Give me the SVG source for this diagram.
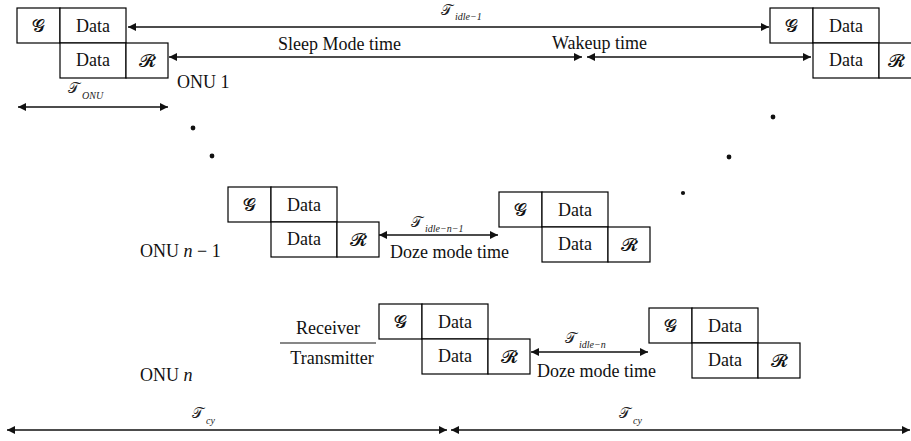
<svg xmlns="http://www.w3.org/2000/svg" width="911" height="441" viewBox="0 0 911 441">
  <style>
    .cell { fill: #fff; stroke: #000; stroke-width: 1.2; }
    .txt { font-family: "Liberation Serif", "Tinos", "DejaVu Serif", serif; font-size: 18px; fill: #111; }
    .mid { text-anchor: middle; }
    .scr { font-family: "DejaVu Serif", "DejaVu Sans", "Noto Sans", serif; font-size: 18px; fill: #111; text-anchor: middle; }
    .bigT { font-family: "DejaVu Serif", "DejaVu Sans", serif; font-size: 15px; fill: #222; }
    .sub { font-family: "Liberation Serif", "Tinos", "DejaVu Serif", serif; font-style: italic; font-size: 10px; fill: #222; }
    .arr { stroke: #111; stroke-width: 1.5; fill: none; marker-start: url(#head); marker-end: url(#head); }
    .sep { stroke: #111; stroke-width: 1.2; }
    .dot { fill: #111; }
  </style>
  <defs>
    <marker id="head" viewBox="0 0 10 10" refX="10" refY="5" markerWidth="9" markerHeight="8" markerUnits="userSpaceOnUse" orient="auto-start-reverse">
      <path d="M0,0 L10,5 L0,10 Z" fill="#111"/>
    </marker>
  </defs>

  <!-- ONU 1 burst -->
  <g id="onu1-burst" transform="translate(17,8)">
    <rect class="cell" x="0" y="0" width="43" height="35"/>
    <rect class="cell" x="43" y="0" width="66" height="35"/>
    <rect class="cell" x="43" y="35" width="66" height="35"/>
    <rect class="cell" x="109" y="35" width="42" height="35"/>
    <text class="scr" x="21.5" y="24">𝓖</text>
    <text class="txt mid" x="76" y="23.5">Data</text>
    <text class="txt mid" x="76" y="57.5">Data</text>
    <text class="scr" x="130" y="59">𝓡</text>
  </g>

  <!-- ONU 1 next burst -->
  <g id="onu1-next" transform="translate(770,8)">
    <rect class="cell" x="0" y="0" width="43" height="35"/>
    <rect class="cell" x="43" y="0" width="66" height="35"/>
    <rect class="cell" x="43" y="35" width="66" height="35"/>
    <rect class="cell" x="109" y="35" width="42" height="35"/>
    <text class="scr" x="21.5" y="24">𝓖</text>
    <text class="txt mid" x="76" y="23.5">Data</text>
    <text class="txt mid" x="76" y="57.5">Data</text>
    <text class="scr" x="126" y="59">𝓡</text>
  </g>

  <!-- ONU n-1 burst -->
  <g id="onun1-burst" transform="translate(228,187)">
    <rect class="cell" x="0" y="0" width="43" height="35"/>
    <rect class="cell" x="43" y="0" width="66" height="35"/>
    <rect class="cell" x="43" y="35" width="66" height="35"/>
    <rect class="cell" x="109" y="35" width="42" height="35"/>
    <text class="scr" x="21.5" y="24">𝓖</text>
    <text class="txt mid" x="76" y="23.5">Data</text>
    <text class="txt mid" x="76" y="57.5">Data</text>
    <text class="scr" x="130" y="59">𝓡</text>
  </g>

  <!-- ONU n-1 next burst -->
  <g id="onun1-next" transform="translate(499,192)">
    <rect class="cell" x="0" y="0" width="43" height="35"/>
    <rect class="cell" x="43" y="0" width="66" height="35"/>
    <rect class="cell" x="43" y="35" width="66" height="35"/>
    <rect class="cell" x="109" y="35" width="42" height="35"/>
    <text class="scr" x="21.5" y="24">𝓖</text>
    <text class="txt mid" x="76" y="23.5">Data</text>
    <text class="txt mid" x="76" y="57.5">Data</text>
    <text class="scr" x="130" y="59">𝓡</text>
  </g>

  <!-- ONU n burst -->
  <g id="onun-burst" transform="translate(379,304)">
    <rect class="cell" x="0" y="0" width="43" height="35"/>
    <rect class="cell" x="43" y="0" width="66" height="35"/>
    <rect class="cell" x="43" y="35" width="66" height="35"/>
    <rect class="cell" x="109" y="35" width="42" height="35"/>
    <text class="scr" x="21.5" y="24">𝓖</text>
    <text class="txt mid" x="76" y="23.5">Data</text>
    <text class="txt mid" x="76" y="57.5">Data</text>
    <text class="scr" x="130" y="59">𝓡</text>
  </g>

  <!-- ONU n next burst -->
  <g id="onun-next" transform="translate(649,308)">
    <rect class="cell" x="0" y="0" width="43" height="35"/>
    <rect class="cell" x="43" y="0" width="66" height="35"/>
    <rect class="cell" x="43" y="35" width="66" height="35"/>
    <rect class="cell" x="109" y="35" width="42" height="35"/>
    <text class="scr" x="21.5" y="24">𝓖</text>
    <text class="txt mid" x="76" y="23.5">Data</text>
    <text class="txt mid" x="76" y="57.5">Data</text>
    <text class="scr" x="130" y="59">𝓡</text>
  </g>

  <!-- ONU labels and interval captions -->
  <g id="labels">
    <text class="txt" x="177" y="88">ONU 1</text>
    <text class="txt" x="140" y="257">ONU <tspan font-style="italic">n</tspan> − 1</text>
    <text class="txt" x="140" y="381">ONU <tspan font-style="italic">n</tspan></text>
    <text class="txt mid" x="328" y="334">Receiver</text>
    <line class="sep" x1="280" y1="343" x2="376" y2="343"/>
    <text class="txt mid" x="332" y="364">Transmitter</text>
    <text class="txt" x="278" y="50">Sleep Mode time</text>
    <text class="txt" x="552" y="49">Wakeup time</text>
    <text class="txt" x="390" y="258">Doze mode time</text>
    <text class="txt" x="537" y="377">Doze mode time</text>
  </g>

  <!-- interval symbols -->
  <g id="symbols">
    <text class="bigT" x="441" y="15">𝒯</text><text class="sub" x="455" y="20">idle−1</text>
    <text class="bigT" x="68" y="93">𝒯</text><text class="sub" x="82" y="99" font-size="8">ONU</text>
    <text class="bigT" x="411" y="227">𝒯</text><text class="sub" x="425" y="232">idle−n−1</text>
    <text class="bigT" x="565" y="343">𝒯</text><text class="sub" x="579" y="348">idle−n</text>
    <text class="bigT" x="192" y="418">𝒯</text><text class="sub" x="206" y="424">cy</text>
    <text class="bigT" x="619" y="418">𝒯</text><text class="sub" x="633" y="424">cy</text>
  </g>

  <!-- ellipsis dots -->
  <g id="dots">
    <circle class="dot" cx="193" cy="128" r="2.4"/>
    <circle class="dot" cx="212" cy="156" r="2.4"/>
    <circle class="dot" cx="773" cy="117" r="2.4"/>
    <circle class="dot" cx="729" cy="157" r="2.4"/>
    <circle class="dot" cx="683" cy="193" r="2.1"/>
  </g>

  <!-- time interval connectors -->
  <g id="connectors">
    <line class="arr" x1="128" y1="27" x2="769" y2="27"/>
    <line class="arr" x1="169" y1="57" x2="582" y2="57"/>
    <line class="arr" x1="587" y1="57" x2="811" y2="57"/>
    <line class="arr" x1="18" y1="107" x2="168" y2="107"/>
    <line class="arr" x1="379" y1="235" x2="498" y2="235"/>
    <line class="arr" x1="531" y1="352" x2="648" y2="352"/>
    <line class="arr" x1="7" y1="430" x2="447" y2="430"/>
    <line class="arr" x1="451" y1="430" x2="910" y2="430"/>
  </g>
</svg>
